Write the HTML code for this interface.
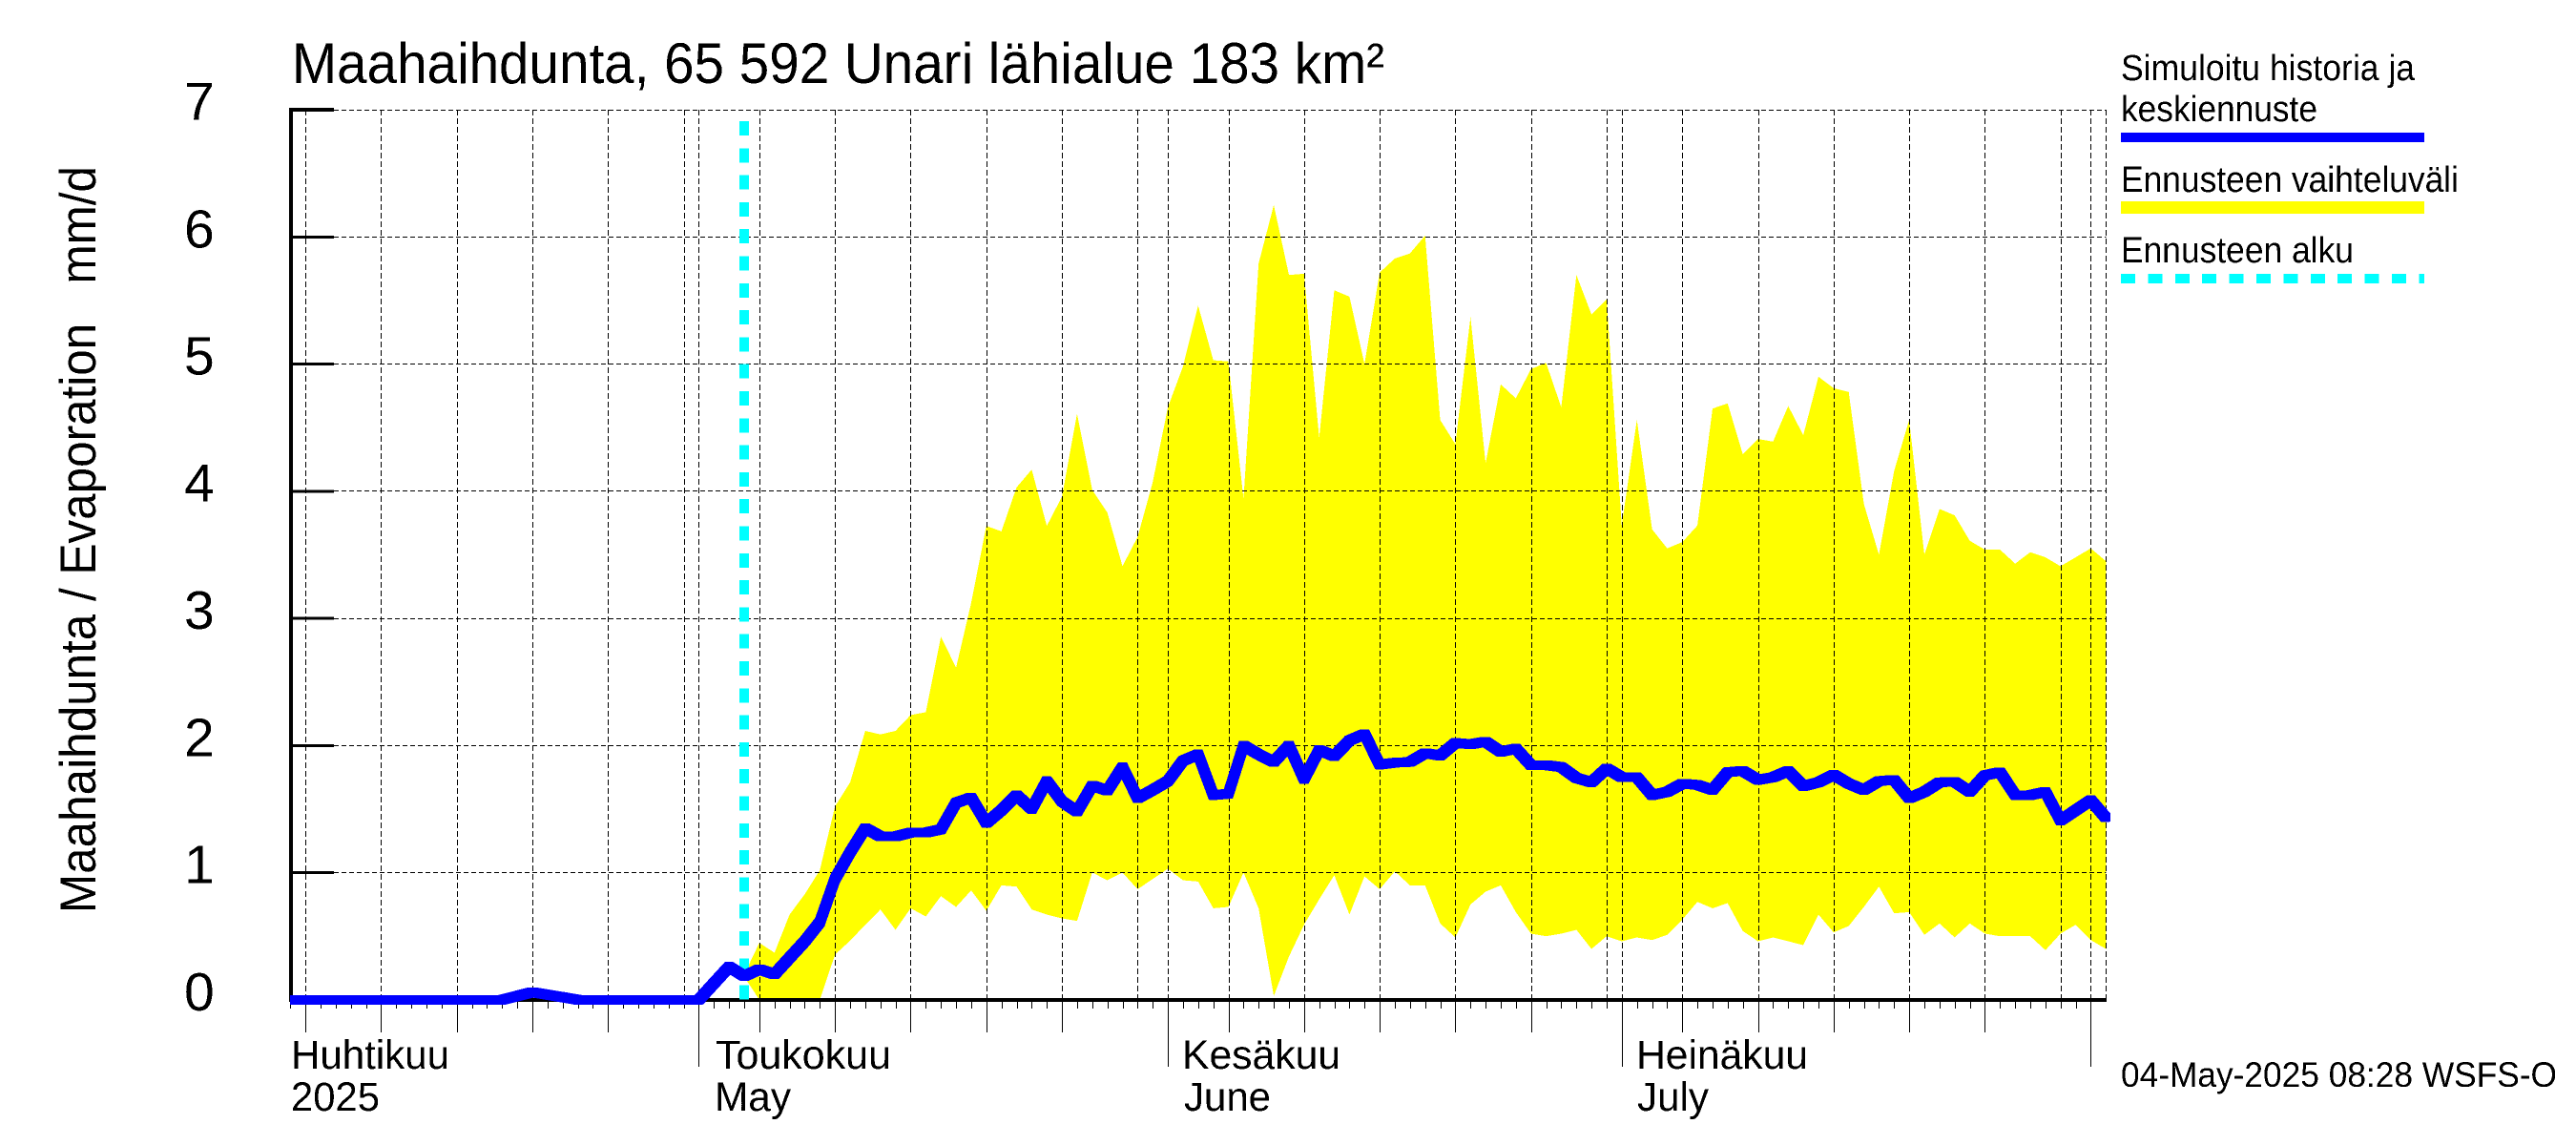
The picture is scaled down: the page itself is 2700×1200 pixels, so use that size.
<!DOCTYPE html>
<html lang="fi">
<head>
<meta charset="utf-8">
<title>Maahaihdunta, 65 592 Unari lähialue 183 km²</title>
<style>
  html, body { margin: 0; padding: 0; background: #fff; width: 2700px; height: 1200px; overflow: hidden; }
  svg { display: block; }
  text { font-family: "Liberation Sans", sans-serif; fill: #000; white-space: pre; }
</style>
</head>
<body>
<svg id="chart" xmlns="http://www.w3.org/2000/svg" width="2700" height="1200" viewBox="0 0 2700 1200">
  <defs>
    <filter id="crisp" filterUnits="userSpaceOnUse" x="0" y="0" width="2700" height="1200" color-interpolation-filters="sRGB">
      <feComponentTransfer><feFuncA type="discrete" tableValues="0 1"/></feComponentTransfer>
    </filter>
    <filter id="square-pen" filterUnits="userSpaceOnUse" x="0" y="0" width="2700" height="1200" color-interpolation-filters="sRGB">
      <feMorphology operator="dilate" radius="4"/>
    </filter>
    <clipPath id="line-clip"><rect x="304" y="0" width="2396" height="1200"/></clipPath>
  </defs>
  <rect x="0" y="0" width="2700" height="1200" fill="#fff"/>
  <g id="band-layer" shape-rendering="crispEdges"></g>
  <g id="grid-layer" shape-rendering="crispEdges"></g>
  <g id="axis-layer" shape-rendering="crispEdges"></g>
  <g id="start-layer" shape-rendering="crispEdges"></g>
  <g clip-path="url(#line-clip)">
    <g id="line-layer" shape-rendering="crispEdges" filter="url(#square-pen)"></g>
  </g>

  <g id="text-layer" filter="url(#crisp)">
    <text x="306" y="87" font-size="60" textLength="1145" lengthAdjust="spacingAndGlyphs">Maahaihdunta, 65 592 Unari lähialue 183 km²</text>
    <text x="100" y="957" font-size="53" textLength="783" lengthAdjust="spacingAndGlyphs" transform="rotate(-90 100 957)">Maahaihdunta / Evaporation   mm/d</text>

    <text x="305" y="1120" font-size="43" textLength="166" lengthAdjust="spacingAndGlyphs">Huhtikuu</text>
    <text x="305" y="1164" font-size="43" textLength="93" lengthAdjust="spacingAndGlyphs">2025</text>
    <text x="750" y="1120" font-size="43" textLength="184" lengthAdjust="spacingAndGlyphs">Toukokuu</text>
    <text x="749" y="1164" font-size="43" textLength="80" lengthAdjust="spacingAndGlyphs">May</text>
    <text x="1239" y="1120" font-size="43" textLength="166" lengthAdjust="spacingAndGlyphs">Kesäkuu</text>
    <text x="1241" y="1164" font-size="43" textLength="91" lengthAdjust="spacingAndGlyphs">June</text>
    <text x="1715" y="1120" font-size="43" textLength="180" lengthAdjust="spacingAndGlyphs">Heinäkuu</text>
    <text x="1716" y="1164" font-size="43" textLength="75" lengthAdjust="spacingAndGlyphs">July</text>

    <text x="2223" y="84" font-size="38" textLength="308" lengthAdjust="spacingAndGlyphs">Simuloitu historia ja</text>
    <text x="2223" y="127" font-size="38" textLength="206" lengthAdjust="spacingAndGlyphs">keskiennuste</text>
    <text x="2223" y="201" font-size="38" textLength="354" lengthAdjust="spacingAndGlyphs">Ennusteen vaihteluväli</text>
    <text x="2223" y="275" font-size="38" textLength="244" lengthAdjust="spacingAndGlyphs">Ennusteen alku</text>

    <text x="2223" y="1139" font-size="37" textLength="457" lengthAdjust="spacingAndGlyphs">04-May-2025 08:28 WSFS-O</text>
  </g>

  <g id="legend" shape-rendering="crispEdges">
    <rect x="2223" y="139" width="318" height="10" fill="#0000ff"/>
    <rect x="2223" y="211" width="318" height="13" fill="#ffff00"/>
    <line x1="2223" y1="292" x2="2541" y2="292" stroke="#00ffff" stroke-width="10" stroke-dasharray="15 13.4"/>
  </g>
</svg>

<script>
// Values in mm/d.
// Daily mean series, 4 April to 2 August 2025.
const meanValues = [
  0,0,0,0,0,0,0,0,0,0,0,0,0,0,
  0,0.03,0.06,0.04,0.02,
  0,0,0,0,0,0,0,0,0,
  0.13,0.26,0.185,0.24,0.20,0.33,0.46,0.61,0.95,1.16,
  1.35,1.285,1.285,1.315,1.315,1.34,1.55,1.59,1.39,1.49,
  1.61,1.50,1.72,1.56,1.48,1.685,1.645,1.83,1.585,1.65,
  1.72,1.88,1.93,1.61,1.62,2.00,1.93,1.87,2.00,1.735,
  1.965,1.915,2.04,2.09,1.85,1.865,1.87,1.94,1.92,2.02,
  2.01,2.03,1.95,1.975,1.845,1.845,1.83,1.745,1.71,1.82,
  1.75,1.75,1.61,1.635,1.70,1.69,1.65,1.79,1.80,1.73,
  1.75,1.80,1.68,1.71,1.77,1.70,1.65,1.72,1.73,1.585,
  1.635,1.71,1.715,1.635,1.765,1.79,1.61,1.61,1.635,1.41,
  1.49,1.57,1.43
];
// Forecast range upper and lower edges, 4 May to 2 August 2025.
const upperValues = [
  0.20,0.447,0.37,0.67,0.83,1.02,1.52,1.71,
  2.115,2.087,2.115,2.239,2.262,2.856,2.612,3.12,3.727,3.684,
  4.03,4.17,3.727,3.957,4.61,4.01,3.83,3.41,3.64,4.07,
  4.66,4.98,5.46,5.03,5.02,3.94,5.79,6.25,5.70,5.71,
  4.42,5.58,5.53,5.00,5.72,5.83,5.87,6.01,4.56,4.37,
  5.37,4.22,4.84,4.73,4.96,5.01,4.66,5.70,5.39,5.51,
  3.73,4.56,3.70,3.55,3.60,3.73,4.65,4.69,4.29,4.41,
  4.39,4.67,4.44,4.90,4.81,4.78,3.90,3.50,4.16,4.56,
  3.50,3.86,3.81,3.61,3.54,3.54,3.43,3.52,3.48,3.41,
  3.48,3.55,3.45
];
const lowerValues = [
  0.18,0,0,0,0,0,0.355,0.465,
  0.59,0.71,0.55,0.72,0.655,0.815,0.73,0.86,0.70,0.90,
  0.89,0.71,0.67,0.64,0.62,1.00,0.94,1.00,0.87,0.95,
  1.03,0.94,0.93,0.72,0.73,1.00,0.72,0.03,0.34,0.59,
  0.79,0.98,0.67,0.97,0.87,1.01,0.90,0.90,0.60,0.49,
  0.75,0.85,0.90,0.69,0.52,0.50,0.52,0.55,0.40,0.50,
  0.46,0.49,0.47,0.51,0.63,0.77,0.72,0.76,0.54,0.46,
  0.49,0.46,0.43,0.67,0.53,0.58,0.73,0.89,0.68,0.69,
  0.51,0.60,0.49,0.60,0.52,0.50,0.50,0.50,0.39,0.52,
  0.59,0.47,0.40
];
const yTickLabels = ["0","1","2","3","4","5","6","7"];
// Calendar: day offset of each month's first day from 4 April, and month lengths.
const monthStartDays = [-3, 27, 58, 88, 119];
const monthLengths = [30, 31, 30, 31, 31];
const lastDay = 120;
const forecastStartDay = 30;

const NS = "http://www.w3.org/2000/svg";
const plotLeft = 304.3, plotRight = 2207.3, plotTop = 115, plotBottom = 1047.8;
function xScale(day) { return plotLeft + (plotRight - plotLeft) * day / lastDay; }
function yScale(v) { return plotBottom - (plotBottom - plotTop) * v / 7; }
function snapX(p) { return Math.round(p) + 0.5; }
function snapY(p) { return Math.floor(p) + 0.5; }
function addLine(parent, x1, y1, x2, y2, stroke, width, dash) {
  const el = document.createElementNS(NS, "line");
  el.setAttribute("x1", x1);
  el.setAttribute("y1", y1);
  el.setAttribute("x2", x2);
  el.setAttribute("y2", y2);
  el.setAttribute("stroke", stroke);
  el.setAttribute("stroke-width", width);
  if (dash) el.setAttribute("stroke-dasharray", dash);
  parent.appendChild(el);
  return el;
}

const bandLayer = document.getElementById("band-layer");
const gridLayer = document.getElementById("grid-layer");
const axisLayer = document.getElementById("axis-layer");
const startLayer = document.getElementById("start-layer");
const lineLayer = document.getElementById("line-layer");
const textLayer = document.getElementById("text-layer");

// Forecast range band
const bandPoints = [];
upperValues.forEach(function (v, i) {
  bandPoints.push(xScale(forecastStartDay + i).toFixed(1) + "," + yScale(v).toFixed(1));
});
for (let i = lowerValues.length - 1; i >= 0; i--) {
  bandPoints.push(xScale(forecastStartDay + i).toFixed(1) + "," + yScale(lowerValues[i]).toFixed(1));
}
const band = document.createElementNS(NS, "polygon");
band.setAttribute("points", bandPoints.join(" "));
band.setAttribute("fill", "#ffff00");


bandLayer.appendChild(band);

// Horizontal grid lines, y ticks and y tick labels
yTickLabels.forEach(function (label) {
  const v = Number(label);
  const y = yScale(v);
  if (v > 0) {
    const g = addLine(gridLayer, 350, snapY(y), plotRight, snapY(y), "#000", 1, "5 3");
    
    
    const t = addLine(axisLayer, 303, y, 350, y, "#000", v === 7 ? 4 : 3);
    
    
  }
  const txt = document.createElementNS(NS, "text");
  txt.setAttribute("x", 193);
  txt.setAttribute("y", (y + 11).toFixed(1));
  txt.setAttribute("font-size", 57);
  txt.textContent = label;
  
  
  textLayer.appendChild(txt);
});

// Vertical grid lines and x ticks from the calendar
monthStartDays.forEach(function (start, m) {
  for (let dom = 1; dom <= monthLengths[m]; dom++) {
    const day = start + dom - 1;
    if (day < 0 || day > lastDay) continue;
    const x = snapX(xScale(day));
    const isGrid = dom === 1 || dom % 5 === 0;
    if (isGrid) {
      const g = addLine(gridLayer, x, plotTop, x, plotBottom, "#000", 1, "6 3");
      
      
    }
    if (day === lastDay) continue;
    let tickEnd = 1057;
    if (dom === 1) tickEnd = 1118;
    else if (dom % 5 === 0 && dom !== 30) tickEnd = 1082;
    const t = addLine(axisLayer, x, plotBottom, x, tickEnd, "#000", 1);
    
    
  }
});
const rightGrid = addLine(gridLayer, snapX(plotRight), plotTop, snapX(plotRight), plotBottom, "#000", 1, "6 3");



// Axis lines
const yAxis = addLine(axisLayer, 305, 113, 305, 1050, "#000", 4);


const xAxis = addLine(axisLayer, 303, plotBottom, plotRight + 0.7, plotBottom, "#000", 4);



// Forecast start marker
const startLine = addLine(startLayer, 781, 127, 781, plotBottom + 0.2, "#00ffff", 10, "15 13.3");
startLine.setAttribute("x1", xScale(forecastStartDay).toFixed(1));
startLine.setAttribute("x2", xScale(forecastStartDay).toFixed(1));



// Mean line: a thin stroke widened by a square-pen dilation filter
const meanPoints = meanValues.map(function (v, i) {
  return xScale(i).toFixed(1) + "," + yScale(v).toFixed(1);
});
const meanLine = document.createElementNS(NS, "polyline");
meanLine.setAttribute("points", meanPoints.join(" "));
meanLine.setAttribute("fill", "none");
meanLine.setAttribute("stroke", "#0000ff");
meanLine.setAttribute("stroke-width", 2);
meanLine.setAttribute("stroke-linejoin", "round");


lineLayer.appendChild(meanLine);
</script>
</body>
</html>
